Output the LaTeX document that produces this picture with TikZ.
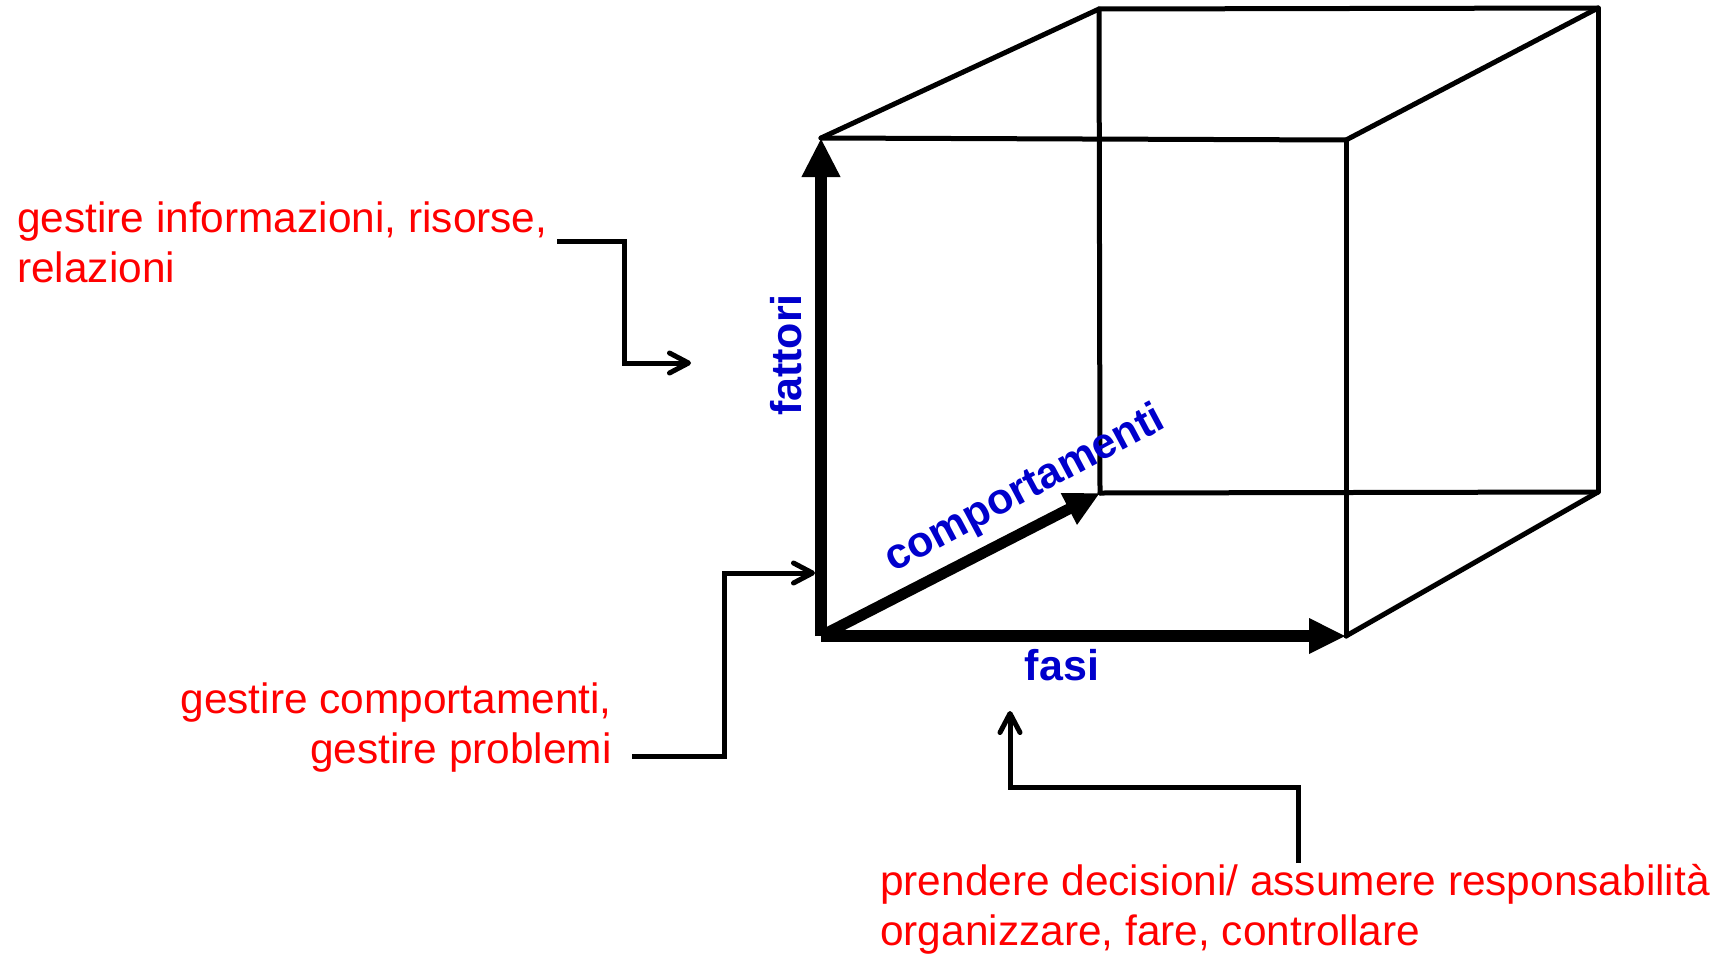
\documentclass[tikz,border=0pt]{standalone}
\usepackage{fontspec}
\setmainfont{Liberation Sans}
\usetikzlibrary{arrows.meta}
\definecolor{lblred}{RGB}{255,0,0}
\definecolor{lblblue}{RGB}{0,0,204}
\begin{document}
\begin{tikzpicture}[x=1pt,y=-1pt,
  edge/.style={line width=5pt, line cap=round},
  axis/.style={line width=12pt},
  conn/.style={line width=5pt, -{Straight Barb[length=19pt,width=20pt,round]}},
  redtxt/.style={text=lblred, inner sep=0pt, font=\fontsize{42.4pt}{50pt}\selectfont},
  bluetxt/.style={text=lblblue, inner sep=0pt, font=\fontsize{43pt}{50pt}\selectfont\bfseries}]
\useasboundingbox (0,0) rectangle (1726,956);
% cube corners
\coordinate (O)  at (821,636);
\coordinate (F1) at (821,138);
\coordinate (F2) at (1346,140);
\coordinate (F3) at (1346,636);
\coordinate (B1) at (1099,9);
\coordinate (B2) at (1598,8);
\coordinate (B3) at (1598,492);
\coordinate (B4) at (1100,493);
% thin edges
\draw[edge] (F1) -- (F2);
\draw[edge] (F2) -- (F3);
\draw[edge] (F1) -- (B1);
\draw[edge] (B1) -- (B2);
\draw[edge] (B2) -- (B3);
\draw[edge] (B1) -- (B4);
\draw[edge] (B4) -- (B3);
\draw[edge] (F2) -- (B2);
\draw[edge] (F3) -- (B3);
% thick axes
\draw[axis, -{Triangle[width=36pt,length=39pt]}] (O) -- (F1);
\draw[axis, -{Triangle[width=33pt,length=37pt]}] (O) -- (F3);
\draw[line width=11pt, -{Triangle[width=33pt,length=35pt]}] (O) -- (B4);
% axis labels
\node[bluetxt, rotate=90, anchor=base] (fat) at (801,355) {fattori};
\node[bluetxt, rotate=28, anchor=center] (comp) at (1025,490) {comportamenti};
\node[bluetxt, anchor=base] (fas) at (1062,680) {fasi};
% red texts
\node[redtxt, anchor=base west] (t1a) at (17,232) {gestire informazioni, risorse,};
\node[redtxt, anchor=base west] (t1b) at (17,282) {relazioni};
\node[redtxt, anchor=base east] (t2a) at (612,713) {gestire comportamenti,};
\node[redtxt, anchor=base east] (t2b) at (612,763) {gestire problemi};
\node[redtxt, anchor=base west] (t3a) at (880,895) {prendere decisioni/ assumere responsabilità};
\node[redtxt, anchor=base west] (t3b) at (880,945) {organizzare, fare, controllare};
% connectors
\coordinate (c1s) at (557,241);
\coordinate (c1e) at (691,363);
\coordinate (c2s) at (632,756);
\coordinate (c2e) at (815,573);
\coordinate (c3s) at (1298,863);
\coordinate (c3e) at (1010,711);
\draw[conn] (c1s) -- ++(67,0) |- (c1e);
\draw[conn] (c2s) -- ++(92,0) |- (c2e);
\draw[conn] (c3s) -- ++(0,-76) -| (c3e);
\end{tikzpicture}
\end{document}
